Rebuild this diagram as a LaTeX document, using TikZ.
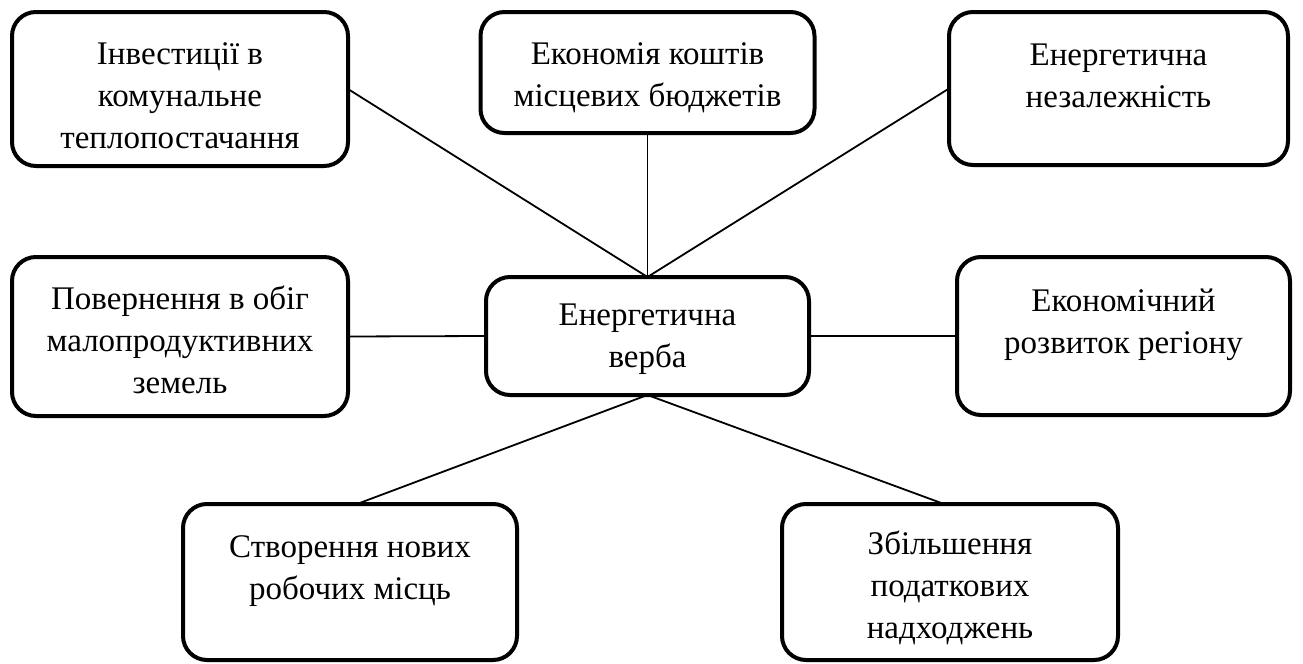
\documentclass[tikz,border=0pt]{standalone}
\usepackage{fontspec}
\setmainfont{Liberation Serif}
\begin{document}
\begin{tikzpicture}[x=0.5pt,y=-0.5pt,
  box/.style={draw, line width=2pt, rounded corners=12pt, fill=white,
    inner sep=0pt, outer sep=0pt},
  txt/.style={anchor=north, inner sep=0pt, align=center,
    font=\fontsize{16.5pt}{21pt}\selectfont},
  link/.style={line width=0.9pt}]
\useasboundingbox (0,0) rectangle (1303,664);

% boxes (path centre, size)
\node[box, minimum width=336*0.5pt, minimum height=154*0.5pt] (b1) at (180,89) {};
\node[box, minimum width=334*0.5pt, minimum height=121*0.5pt] (b2) at (647.5,72.5) {};
\node[box, minimum width=339*0.5pt, minimum height=153*0.5pt] (b3) at (1118.5,88.5) {};
\node[box, minimum width=336*0.5pt, minimum height=159*0.5pt] (b4) at (180,336.5) {};
\node[box, minimum width=323*0.5pt, minimum height=118*0.5pt] (c)  at (647.5,336) {};
\node[box, minimum width=333*0.5pt, minimum height=158*0.5pt] (b6) at (1123.5,336) {};
\node[box, minimum width=334*0.5pt, minimum height=156*0.5pt] (b7) at (350,582) {};
\node[box, minimum width=336*0.5pt, minimum height=156*0.5pt] (b8) at (950,582) {};

% texts, hung from the top edge of each box
\node[txt] (t1) at ([yshift=-15pt]b1.north) {Інвестиції в\\комунальне\\теплопостачання};
\node[txt] (t2) at ([yshift=-15pt]b2.north) {Економія коштів\\місцевих бюджетів};
\node[txt] (t3) at ([yshift=-15.5pt]b3.north) {Енергетична\\незалежність};
\node[txt] (t4) at ([yshift=-14pt]b4.north) {Повернення в обіг\\малопродуктивних\\земель};
\node[txt] (tc) at ([yshift=-13pt]c.north) {Енергетична\\верба};
\node[txt] (t6) at ([yshift=-16pt]b6.north) {Економічний\\розвиток регіону};
\node[txt] (t7) at ([yshift=-15.5pt]b7.north) {Створення нових\\робочих місць};
\node[txt] (t8) at ([yshift=-13pt]b8.north) {Збільшення\\податкових\\надходжень};

% connectors
\draw[link] (c.north) -- (b1.east);
\draw[link] (c.north) -- (b2.south);
\draw[link] (c.north) -- (b3.west);
\draw[link] (c.west) -- (b4.east);
\draw[link] (c.east) -- (b6.west);
\draw[link] (c.south) -- ([xshift=3.5pt]b7.north);
\draw[link] (c.south) -- ([xshift=-3pt]b8.north);
\end{tikzpicture}
\end{document}
